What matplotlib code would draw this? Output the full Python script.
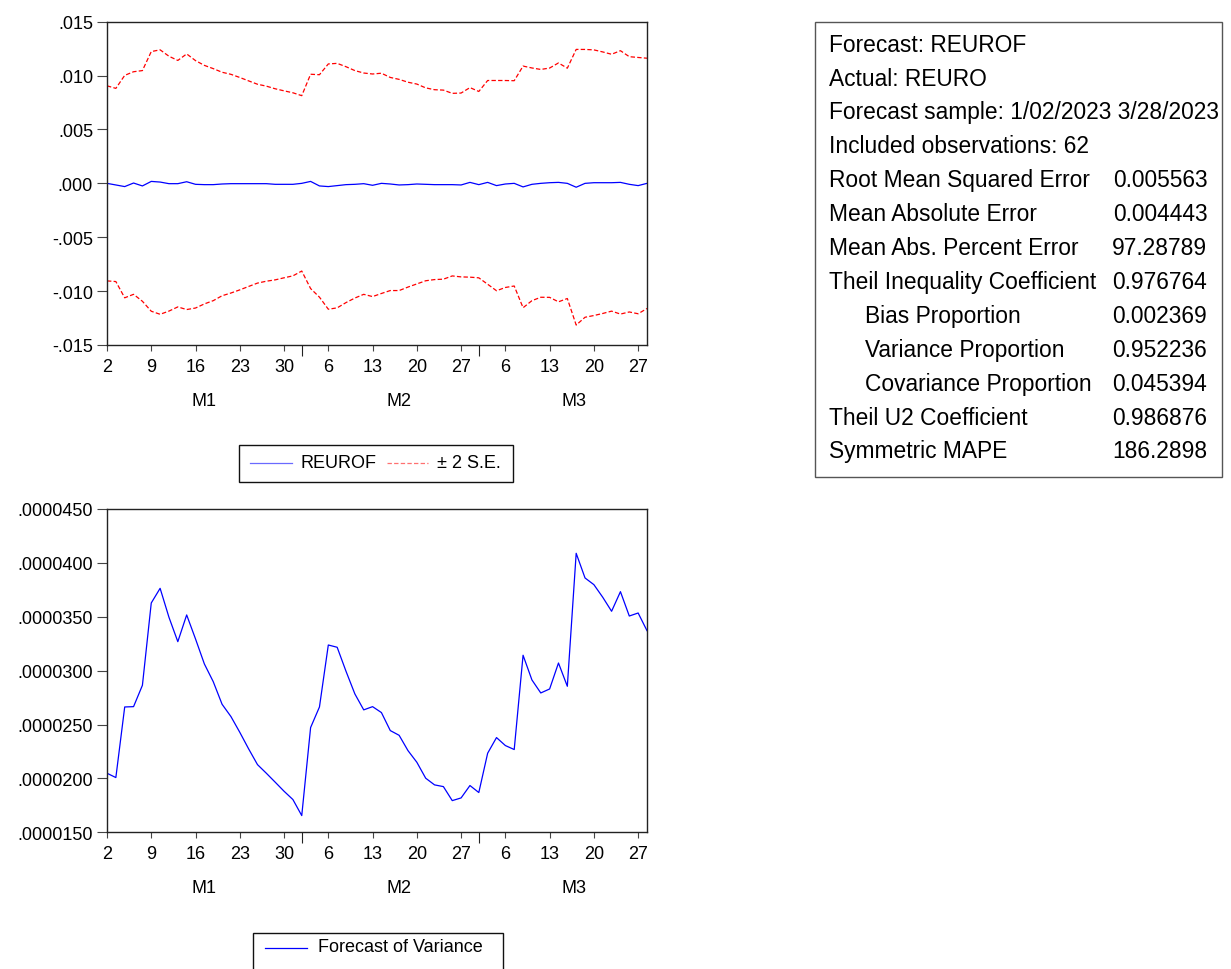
import numpy as np
import pandas as pd
import matplotlib
matplotlib.use('Agg')
import matplotlib.pyplot as plt
from matplotlib.patches import Rectangle
from matplotlib.lines import Line2D
from matplotlib.ticker import FuncFormatter

plt.rcParams['font.family'] = ['Liberation Sans', 'DejaVu Sans']

# forecast sample 1/02/2023 - 3/28/2023, business days (62 obs)
dates = pd.bdate_range('2023-01-02', '2023-03-28')
month_labels = ['M1', 'M2', 'M3']

# REUROF forecast, units of 1e-4
reurof_e4 = [0.0, -1.5, -3.0, 0.3, -2.4, 1.8, 1.2, -0.3, -0.3, 1.5,
             -0.9, -1.2, -1.2, -0.6, -0.3, -0.3, -0.3, -0.3, -0.3, -0.9,
             -0.9, -0.9, 0.0, 1.8, -2.4, -3.0, -2.1, -1.2, -0.9, -0.3,
             -1.8, 0.0, -0.6, -1.5, -1.2, -0.6, -0.9, -1.2, -1.2, -1.2,
             -1.5, 0.9, -1.2, 0.9, -2.1, -0.6, 0.0, -3.3, -0.9, 0.0,
             0.6, 0.9, 0.0, -3.6, 0.0, 0.6, 0.6, 0.6, 0.9, -0.9,
             -2.1, 0.0]

# forecast of variance, units of 1e-6
variance_e6 = [20.48, 20.08, 26.63, 26.66, 28.64, 36.28, 37.64, 34.95, 32.69, 35.17,
               32.94, 30.62, 28.98, 26.88, 25.74, 24.28, 22.74, 21.28, 20.48, 19.65,
               18.81, 18.04, 16.55, 24.72, 26.63, 32.38, 32.17, 29.94, 27.84, 26.36,
               26.66, 26.11, 24.44, 24.00, 22.58, 21.50, 20.02, 19.40, 19.24, 17.94,
               18.19, 19.34, 18.69, 22.34, 23.79, 23.05, 22.68, 31.43, 29.14, 27.93,
               28.30, 30.71, 28.55, 40.89, 38.60, 37.98, 36.81, 35.51, 37.33, 35.07,
               35.35, 33.71]

stat_names = ['Forecast: REUROF', 'Actual: REURO',
              'Forecast sample: 1/02/2023 3/28/2023', 'Included observations: 62',
              'Root Mean Squared Error', 'Mean Absolute Error',
              'Mean Abs. Percent Error', 'Theil Inequality Coefficient',
              '    Bias Proportion', '    Variance Proportion',
              '    Covariance Proportion', 'Theil U2 Coefficient', 'Symmetric MAPE']
stat_values = ['', '', '', '', '0.005563', '0.004443', '97.28789', '0.976764',
               '0.002369', '0.952236', '0.045394', '0.986876', '186.2898']

reurof = np.array(reurof_e4) * 1e-4
variance = np.array(variance_e6) * 1e-6
upper = reurof + 2 * np.sqrt(variance)
lower = reurof - 2 * np.sqrt(variance)

n = len(dates)
x = np.arange(n)
tick_pos = [i for i in range(n) if dates[i].weekday() == 0]
tick_lab = [str(dates[i].day) for i in tick_pos]
month_starts = [i for i in range(1, n) if dates[i].month != dates[i - 1].month]
month_pos = [11.0, 33.0, 52.8]

W, H = 1231, 970
fig = plt.figure(figsize=(W / 100, H / 100), dpi=100)


def fr(px, py):
    return px / W, 1 - py / H


def style(ax):
    ax.set_xlim(0, n - 1)
    ax.set_xticks(tick_pos)
    ax.set_xticklabels(tick_lab)
    ax.set_xticks(month_starts, minor=True)
    ax.tick_params(axis='x', which='major', direction='out', length=4, width=0.8,
                   pad=5, labelsize=13, color='#444444')
    ax.tick_params(axis='x', which='minor', direction='out', length=8, width=0.8,
                   color='#222222')
    ax.tick_params(axis='y', direction='out', length=7, width=0.8, pad=3,
                   labelsize=13, color='#444444')
    for s in ax.spines.values():
        s.set_linewidth(1.0)
        s.set_color('#222222')
    for p, lab in zip(month_pos, month_labels):
        ax.annotate(lab, xy=(p, 0), xycoords=('data', 'axes fraction'),
                    xytext=(0, -40), textcoords='offset points',
                    ha='center', va='center', fontsize=13)


# top: forecast with +/- 2 S.E.
ax1 = fig.add_axes([107 / W, 1 - 346 / H, 540 / W, 323.3 / H])
ax1.plot(x, reurof, color='#0000ff', lw=0.9)
ax1.plot(x, upper, color='#ff0000', lw=0.9, ls=(0, (3.5, 1.8)))
ax1.plot(x, lower, color='#ff0000', lw=0.9, ls=(0, (3.5, 1.8)))
ax1.set_ylim(-0.015, 0.015)
ax1.set_yticks(np.arange(-0.015, 0.0151, 0.005))
ax1.yaxis.set_major_formatter(FuncFormatter(lambda v, p: f'{v:.3f}'.replace('0.', '.', 1).replace('-.000', '.000')))
style(ax1)

# bottom: forecast of variance
ax2 = fig.add_axes([107 / W, 1 - 833.3 / H, 540 / W, 323.3 / H])
ax2.plot(x, variance, color='#0000ff', lw=0.9)
ax2.set_ylim(0.000015, 0.000045)
ax2.set_yticks(np.arange(0.000015, 0.0000451, 0.000005))
ax2.yaxis.set_major_formatter(FuncFormatter(lambda v, p: f'{v:.7f}'.replace('0.', '.', 1)))
style(ax2)

# legends drawn by hand
def box(x0, y0, x1, y1, ec='#111111'):
    fig.add_artist(Rectangle(fr(x0, y1), (x1 - x0) / W, (y1 - y0) / H,
                             transform=fig.transFigure, fill=False, ec=ec, lw=1.0))


def key(x0, x1, y, **kw):
    (a, b), (c, d) = fr(x0, y), fr(x1, y)
    fig.add_artist(Line2D([a, c], [b, d], transform=fig.transFigure, **kw))


box(239.3, 446, 513.3, 483.3)
key(250, 292, 464, color='#6a6aff', lw=0.9)
fig.text(*fr(300, 464), 'REUROF', fontsize=13, va='center')
key(387, 428, 464, color='#ff7070', lw=0.9, ls=(0, (3.5, 1.8)))
fig.text(*fr(437, 464), '± 2 S.E.', fontsize=13, va='center')

box(252.6, 934, 503, 990)
key(265, 307, 949, color='#0000ff', lw=0.9)
fig.text(*fr(318, 948), 'Forecast of Variance', fontsize=13, va='center')

# statistics table
box(815, 22.7, 1222.3, 478.3, ec='#555555')
for k, (name, val) in enumerate(zip(stat_names, stat_values)):
    yb = 51.7 + 33.9 * k
    if name.startswith('    '):
        fig.text(*fr(865, yb), name.strip(), fontsize=16.4, va='baseline')
    else:
        fig.text(*fr(829.3, yb), name, fontsize=16.4, va='baseline')
    if val:
        fig.text(*fr(1207.3, yb), val, fontsize=16.4, va='baseline', ha='right')

fig.savefig('out.png', dpi=100)
